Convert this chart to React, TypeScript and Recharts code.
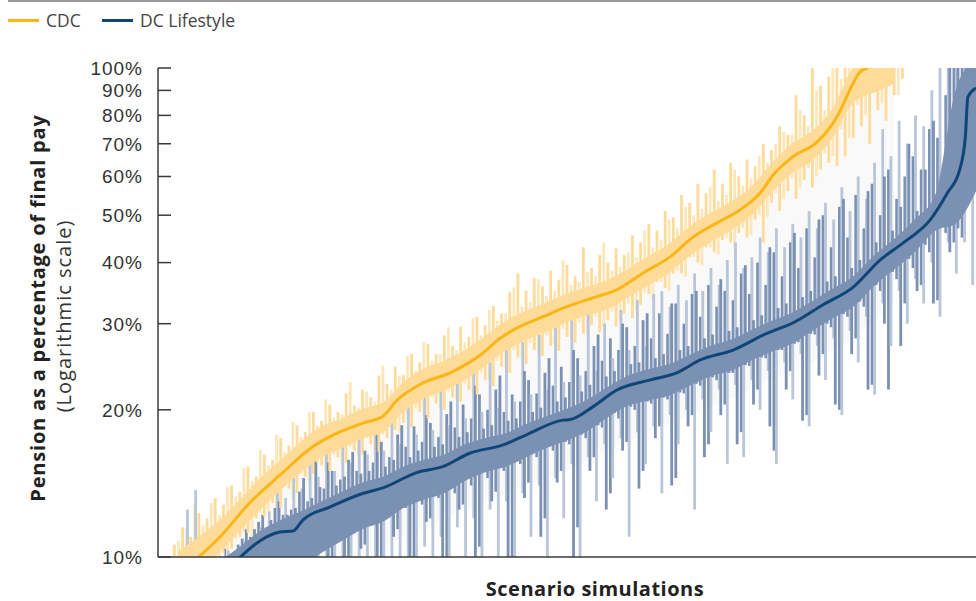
import { ComposedChart, Area, Bar, Cell, Line, XAxis, YAxis } from 'recharts';

const FONT = '"Open Sans", "Noto Sans", sans-serif';
const TICK_FONT = '"Liberation Sans", Arial, sans-serif';
const AXIS = '#3a3a3a';
const PLOT_LEFT = 158;
const YELLOW_FILL = '#fedb98';
const YELLOW_PALE = '#fee6b8';
const DARK_FILL = '#7b91b4';
const LIGHT_FILL = '#b9c5d9';

// y-axis ticks (percent of final pay, log scale)
const yTicks = [10, 20, 30, 40, 50, 60, 70, 80, 90, 100];

// scenario index helper (x positions only, not values)
const steps = (from: number, to: number, step: number) =>
  Array.from({ length: Math.floor((to - from) / step) + 1 }, (_, k) => from + k * step);

// CDC median outcome
const cdcIdx = [47, 76, 112, 149, 189, 251, 275, 292, 324, 357, 397, 418, 434, 471, 500, 532, 561, 593, 626, 654, 683, 711, 736, 752, 776, 806, 830, 850, 858, 868];
const cdcVal = [9.9, 11.0, 12.9, 14.7, 16.8, 18.8, 19.4, 20.9, 22.7, 23.8, 26.1, 28.0, 29.1, 31.0, 32.5, 33.9, 35.2, 38.1, 41.1, 45.1, 48.2, 51.2, 55.5, 60.4, 65.8, 70.6, 79.4, 93.2, 98.1, 100];

// DC Lifestyle median outcome
const dcIdx = [98, 125, 149, 165, 177, 210, 251, 275, 317, 348, 381, 422, 451, 495, 504, 532, 561, 601, 634, 663, 703, 745, 776, 813, 850, 883, 911, 944, 965, 980, 987, 990, 1000];
const dcVal = [9.9, 10.8, 11.25, 11.3, 11.9, 12.65, 13.5, 13.85, 14.9, 15.3, 16.3, 16.95, 17.8, 19.05, 19.1, 20.3, 21.95, 23.0, 23.8, 25.3, 26.5, 28.7, 30.1, 32.8, 35.65, 40.5, 43.9, 48.9, 55.5, 61.9, 72.3, 87.2, 91.0];

// CDC dense core of simulations
const cdcCoreIdx = steps(25, 900, 25);
const cdcCoreLo = [
  9, 9.3, 10.2, 11.3, 12.5, 13.7, 14.9, 16.0, 16.7, 17.5,
  18.0, 19.8, 21.1, 21.9, 23.0, 24.6, 26.4, 27.8, 28.9, 30.2,
  31.2, 32.1, 34.0, 36.0, 38.1, 41.3, 44.0, 46.5, 49.8, 55.6,
  61.0, 64.7, 72.1, 85, 89, 93,
];
const cdcCoreHi = [
  10.3, 11.0, 11.9, 13.1, 14.5, 15.8, 17.2, 18.5, 19.2, 20.1,
  20.7, 22.8, 24.3, 25.2, 26.5, 28.3, 30.4, 31.9, 33.2, 34.6,
  35.7, 36.9, 38.9, 41.3, 43.7, 47.4, 50.5, 53.3, 57.2, 63.8,
  70.0, 74.3, 82.8, 100, 105, 105,
];

// DC Lifestyle dense core of simulations
const dcCoreIdx = steps(75, 1000, 25);
const dcCoreLo = [
  9, 9, 9, 9, 9.5, 10.2, 10.8, 11.4, 11.8, 12.6,
  13.1, 13.5, 14.3, 14.9, 15.3, 16.0, 16.7, 17.3, 18.1, 19.3,
  20.4, 20.9, 21.4, 22.4, 23.4, 24.0, 25.2, 26.3, 27.3, 29.0,
  30.8, 32.5, 35.8, 38.7, 42.0, 46.4, 48, 56,
];
const dcCoreHi = [
  9.8, 10.5, 11.3, 11.9, 12.4, 13.0, 13.6, 14.2, 14.6, 15.3,
  15.8, 16.2, 17.0, 17.5, 17.9, 18.7, 19.4, 20.1, 21.0, 22.3,
  23.5, 24.2, 24.8, 25.9, 27.0, 27.8, 29.1, 30.4, 31.6, 33.4,
  35.4, 37.5, 41.3, 44.7, 49.0, 55, 90, 105,
];

// CDC individual simulation spikes (low, high)
const cdcSpikeIdx = steps(20, 910, 10);
const cdcLo = [
  9, 9, 9, 9, 9.5, 9.8, 10.2, 10.4, 11.0, 11.2,
  12.0, 12.1, 12.9, 12.6, 13.8, 13.5, 14.6, 14.8, 15.4, 15.0,
  16.0, 15.6, 16.5, 16.2, 17.0, 16.4, 17.5, 18.2, 18.8, 18.4,
  19.8, 19.2, 20.6, 20.0, 21.2, 20.8, 22.0, 21.5, 23.0, 22.4,
  24.5, 23.8, 25.6, 24.8, 26.5, 25.8, 27.0, 26.4, 28.2, 27.4,
  28.6, 29.8, 28.8, 30.5, 29.6, 31.5, 30.8, 32.8, 34.5, 36.5,
  35.5, 38.0, 38.0, 41.0, 40.0, 43.0, 42.0, 44.5, 44.0, 46.0,
  45.0, 49.0, 44.0, 53.0, 51.0, 56.0, 54.0, 59.0, 57.0, 62.0,
  64.0, 63.0, 66.0, 72.0, 76.0, 70.0, 82.0, 78.0, 88.0, 95.0,
];
const cdcHi = [
  10.6, 11.5, 11.0, 12.3, 12.0, 13.2, 12.8, 14.0, 13.6, 15.3,
  14.6, 16.2, 15.8, 17.5, 16.9, 18.6, 18.0, 19.8, 19.0, 20.5,
  19.8, 21.6, 20.4, 22.0, 21.2, 23.5, 22.6, 24.5, 23.6, 26.0,
  25.0, 27.3, 26.0, 28.4, 27.0, 29.6, 28.2, 31.0, 29.8, 32.6,
  31.5, 34.8, 38.0, 35.0, 37.2, 35.8, 38.5, 36.8, 39.6, 37.5,
  43.0, 39.0, 41.5, 40.0, 42.8, 41.5, 45.5, 44.0, 48.0, 46.5,
  51.0, 49.5, 55.0, 53.0, 58.0, 55.5, 62.0, 58.0, 64.0, 60.0,
  65.0, 63.0, 70.0, 68.0, 76.0, 73.0, 88.0, 80.0, 100, 92.0,
  96.0, 105, 105, 105, 105, 105, 105, 105, 105, 105,
];

// CDC further simulations, in between the ones above (low, high)
const cdcSpike2Idx = steps(25, 905, 10);
const cdcSpike2: [number, number][] = [
  [9, 10.8], [9, 11.4], [9, 12.8], [9.4, 11.6], [9.3, 12.9], [10.0, 12.2], [9.8, 13.9], [10.9, 13.3], [11.2, 15.2], [11.0, 14.3],
  [12.3, 16.6], [12.4, 15.4], [12.6, 17.8], [13.9, 16.4], [13.2, 18.9], [14.8, 17.6], [14.2, 19.8], [15.6, 18.6], [15.0, 21.0], [16.2, 19.3],
  [15.4, 19.6], [16.8, 22.8], [16.0, 20.2], [17.5, 21.8], [16.2, 20.8], [17.8, 24.6], [18.6, 22.0], [18.0, 23.5], [19.6, 25.8], [20.1, 24.0],
  [19.4, 27.5], [21.2, 25.2], [20.2, 26.0], [21.8, 29.5], [21.0, 26.5], [22.6, 27.5], [21.5, 30.8], [23.8, 28.4], [23.0, 32.0], [25.2, 30.4],
  [24.4, 31.5], [26.5, 35.6], [25.5, 32.5], [27.4, 33.2], [26.2, 37.0], [28.4, 34.2], [27.2, 35.0], [29.3, 40.5], [28.0, 36.0], [30.2, 36.5],
  [28.6, 38.2], [31.0, 37.5], [29.5, 44.0], [31.8, 38.5], [30.4, 39.2], [33.0, 42.0], [32.0, 41.0], [34.8, 46.5], [33.5, 43.0], [36.5, 44.5],
  [35.0, 49.0], [38.5, 47.0], [37.5, 52.0], [41.0, 50.0], [39.5, 51.5], [43.0, 57.0], [41.5, 53.5], [45.0, 55.0], [43.0, 62.0], [47.0, 57.5],
  [45.5, 59.5], [50.0, 66.0], [49.5, 64.0], [55.5, 70.0], [54.0, 74.0], [59.5, 73.0], [57.0, 82.0], [62.5, 76.0], [60.0, 90.0], [67.0, 82.0],
  [66.0, 100], [75.0, 95.0], [72.0, 105], [84.0, 105], [80.0, 105], [90.0, 105], [85.0, 105], [92.0, 105], [88.0, 105],
];

// DC Lifestyle individual simulation spikes (low, high)
const darkSpikeIdx = steps(73, 1003, 10);
const darkLo = [
  9, 9, 9, 9, 9, 9, 9.5, 10.0, 10.2, 9.0,
  10.4, 10.6, 9.0, 10.8, 10.0, 11.2, 9.0, 11.5, 10.6, 11.8,
  9.0, 12.2, 11.4, 12.6, 9.0, 12.8, 12.0, 13.2, 9.0, 13.5,
  12.8, 14.0, 10.5, 14.5, 13.6, 15.0, 9.0, 15.5, 14.2, 16.0,
  12.0, 16.5, 15.0, 17.0, 11.5, 17.5, 16.0, 18.4, 13.5, 19.2,
  17.2, 20.0, 15.0, 20.6, 18.5, 21.0, 14.5, 21.6, 19.5, 22.4,
  17.0, 23.0, 20.5, 23.8, 18.0, 24.6, 22.0, 25.5, 16.5, 26.5,
  24.0, 27.5, 19.5, 28.5, 26.0, 29.5, 20.0, 31.0, 28.0, 32.5,
  22.5, 35.0, 22.0, 37.0, 33.0, 39.0, 36.0, 42.0, 33.5, 46.0,
  44.0, 45.0, 58.0, 52.0,
];
const darkHi = [
  9.5, 10.4, 10.2, 10.9, 11.0, 11.8, 11.5, 12.6, 12.2, 12.5,
  13.6, 13.0, 17.5, 13.8, 15.0, 14.4, 15.8, 15.0, 16.5, 15.6,
  17.2, 16.0, 17.8, 16.8, 18.5, 17.2, 18.8, 17.6, 19.6, 18.4,
  20.5, 19.2, 21.5, 20.0, 22.0, 19.8, 21.5, 20.8, 23.0, 21.6,
  23.8, 22.4, 24.5, 22.8, 25.5, 24.0, 27.0, 25.2, 28.0, 26.5,
  29.5, 27.0, 30.5, 28.0, 31.5, 28.6, 33.0, 30.0, 34.5, 31.0,
  36.0, 32.5, 35.0, 33.5, 38.0, 34.5, 40.0, 36.0, 42.0, 37.5,
  44.0, 39.0, 47.0, 41.0, 50.0, 43.0, 52.0, 45.0, 55.0, 47.0,
  58.0, 50.0, 62.0, 54.0, 60.0, 66.0, 62.0, 75.0, 72.0, 88.0,
  105, 105, 105, 105,
];

// DC Lifestyle further simulations, in between the ones above (low, high)
const darkSpike2Idx = steps(78, 998, 10);
const darkSpike2: [number, number][] = [
  [9, 9.6], [9, 10.1], [9, 10.6], [9, 11.4], [9.5, 11.4], [9, 12.2], [10.1, 11.9], [9, 13.0], [10.3, 12.2], [9, 12.6],
  [10.8, 14.5], [9, 13.2], [11.2, 13.9], [9.6, 15.6], [11.6, 14.0], [9, 14.6], [12.0, 16.4], [10.4, 14.8], [12.3, 15.0], [9, 17.8],
  [12.6, 15.3], [11.0, 15.8], [13.0, 18.6], [9, 16.0], [13.5, 16.5], [11.8, 19.5], [13.7, 16.8], [9, 17.0], [14.1, 20.8], [12.5, 17.6],
  [14.7, 18.0], [9, 22.4], [15.0, 18.3], [13.0, 18.6], [15.3, 23.5], [9, 19.0], [15.8, 19.2], [13.2, 24.0], [16.3, 19.8], [11.0, 20.2],
  [16.8, 25.5], [14.2, 20.8], [17.2, 21.2], [9, 26.5], [17.8, 21.8], [15.0, 22.5], [18.6, 28.5], [12.5, 23.4], [19.7, 24.0], [16.5, 30.0],
  [20.3, 24.8], [13.8, 25.0], [20.8, 31.5], [17.5, 25.5], [21.2, 26.0], [14.0, 33.0], [21.7, 26.5], [18.5, 27.0], [22.6, 35.0], [16.0, 28.0],
  [23.3, 28.5], [19.5, 37.0], [23.8, 29.0], [17.0, 29.5], [24.7, 39.5], [20.5, 30.5], [25.6, 31.2], [18.5, 43.0], [26.5, 32.3], [22.0, 33.0],
  [27.3, 46.0], [19.0, 34.0], [28.6, 35.0], [23.5, 49.0], [30.0, 36.6], [20.5, 37.5], [31.4, 54.0], [26.0, 39.0], [33.3, 40.5], [22.0, 56.0],
  [36.0, 44.0], [30.0, 60.0], [38.3, 46.5], [27.0, 52.0], [40.7, 70.0], [35.0, 51.0], [43.5, 62.0], [33.0, 78.0], [48.5, 60.0], [42.0, 105],
  [47.0, 105], [55.0, 105], [60.0, 105],
];

// DC Lifestyle outer simulation spikes (low, high)
const lightSpikeIdx = steps(36, 1006, 10);
const lightLo = [
  9, 9, 9, 9, 9, 9, 9, 9, 9, 9,
  9, 9, 9, 9, 9, 9, 9, 9, 9, 9,
  9, 9, 9, 9, 9, 9, 9, 9, 9, 10.5,
  9, 11.0, 9, 11.5, 9, 12.0, 9, 12.5, 10.0, 13.0,
  9, 13.5, 11.0, 14.0, 9, 14.5, 12.0, 15.5, 9, 16.0,
  13.0, 17.0, 14.5, 17.5, 11.0, 18.0, 15.5, 18.5, 13.5, 19.5,
  17.0, 20.0, 12.5, 21.0, 18.0, 22.0, 15.5, 22.5, 16.0, 23.0,
  20.0, 24.0, 15.5, 25.0, 21.0, 26.0, 18.5, 27.0, 23.0, 28.0,
  19.5, 29.0, 25.0, 31.0, 21.5, 33.0, 27.0, 35.0, 30.0, 37.0,
  33.0, 40.0, 31.0, 44.0, 38.0, 44.0, 36.0, 54.0,
];
const lightHi = [
  12.5, 13.7, 9.3, 9.8, 9.5, 10.3, 9.8, 10.8, 10.4, 11.5,
  12.4, 14.0, 13.2, 14.5, 13.8, 16.0, 14.6, 16.8, 15.0, 17.4,
  15.6, 17.8, 16.2, 18.6, 16.5, 19.5, 17.0, 21.0, 17.8, 21.6,
  18.2, 22.5, 18.6, 23.2, 19.2, 24.0, 19.8, 25.0, 20.2, 26.5,
  20.8, 27.5, 21.5, 28.5, 22.0, 29.5, 22.8, 30.5, 23.5, 31.5,
  24.0, 30.0, 25.5, 32.0, 26.5, 33.5, 27.0, 34.5, 35.0, 32.5,
  36.0, 33.5, 38.0, 35.0, 39.0, 36.0, 40.5, 44.0, 39.0, 41.0,
  45.0, 42.0, 47.0, 43.0, 48.0, 45.0, 51.0, 47.0, 53.0, 49.0,
  57.0, 51.0, 60.0, 54.0, 64.0, 75.0, 66.0, 78.0, 70.0, 80.0,
  76.0, 90.0, 105, 105, 105, 105, 105, 105,
];

// faint zone between the two strategies
const greyIdx = [40, 100, 150, 200, 250, 300, 350, 400, 450, 500, 550, 600, 650, 700, 750, 800, 850, 900];
const greyLo = [9, 9, 9, 9.5, 10, 11, 12, 13, 14, 15, 16.5, 18, 19.5, 21, 23, 25, 28, 33];
const greyHi = [10, 11.6, 14.0, 16.3, 17.8, 20.2, 22.4, 25.0, 28.4, 30.8, 32.9, 36.8, 42.3, 47.5, 56.8, 66.1, 88, 100];

const toLine = (idx: number[], vals: number[]) => idx.map((i, k) => ({ i, v: vals[k] }));
const toBand = (idx: number[], lo: number[], hi: number[]) =>
  idx.map((i, k) => ({ i, r: [lo[k], hi[k]] }));

const cdcLine = toLine(cdcIdx, cdcVal);
const dcLine = toLine(dcIdx, dcVal);
const cdcCore = toBand(cdcCoreIdx, cdcCoreLo, cdcCoreHi);
const dcCore = toBand(dcCoreIdx, dcCoreLo, dcCoreHi);
const greyBand = toBand(greyIdx, greyLo, greyHi);

// every simulation spike in one table, each with its own colour
const spikeRows = [
  ...lightSpikeIdx.map((i, k) => ({ i, r: [lightLo[k], lightHi[k]], c: LIGHT_FILL })),
  ...cdcSpike2Idx.map((i, k) => ({ i, r: cdcSpike2[k], c: YELLOW_PALE })),
  ...cdcSpikeIdx.map((i, k) => ({ i, r: [cdcLo[k], cdcHi[k]], c: YELLOW_FILL })),
  ...darkSpikeIdx.map((i, k) => ({ i, r: [darkLo[k], darkHi[k]], c: DARK_FILL })),
  ...darkSpike2Idx.map((i, k) => ({ i, r: darkSpike2[k], c: DARK_FILL })),
].sort((a, b) => a.i - b.i);

// thin vertical stroke per simulation, centred on the slot the library computed
const Spike = (props: any) => {
  const { x, y, width, height, fill } = props;
  if (height == null || !isFinite(height) || !isFinite(y)) return null;
  return <rect x={x + width / 2 - 1.4} y={y} width={2.8} height={Math.max(height, 0)} fill={fill} />;
};

const YTick = ({ y, payload }: any) => (
  <g>
    <line x1={PLOT_LEFT} x2={PLOT_LEFT + 13} y1={y} y2={y} stroke={AXIS} strokeWidth={1.5} />
    <text x={143} y={y} dy="0.36em" textAnchor="end" fontFamily={TICK_FONT} fontSize={19}
      letterSpacing={1} fill="#333">
      {payload.value}%
    </text>
  </g>
);

const YLabel = () => (
  <g fontFamily={FONT}>
    <text transform="translate(37, 308) rotate(-90)" textAnchor="middle" dominantBaseline="central"
      fontSize={20} fontWeight={700} letterSpacing={0.8} fill="#222">
      Pension as a percentage of final pay
    </text>
    <text transform="translate(63, 316) rotate(-90)" textAnchor="middle" dominantBaseline="central"
      fontSize={20} letterSpacing={1} fill="#333">
      (Logarithmic scale)
    </text>
  </g>
);

const XLabel = () => (
  <text x={595} y={588} textAnchor="middle" dominantBaseline="central" fontFamily={FONT}
    fontSize={20} fontWeight={700} letterSpacing={0.5} fill="#222">
    Scenario simulations
  </text>
);

const LegendItem = ({ color, label, left }: { color: string; label: string; left: number }) => (
  <div style={{ position: 'absolute', left, top: 8, display: 'flex', alignItems: 'center', height: 24 }}>
    <span style={{ display: 'inline-block', width: 31, height: 3, background: color, marginRight: 7 }} />
    <span style={{ fontFamily: FONT, fontSize: 17.5, color: '#444' }}>{label}</span>
  </div>
);

export default function App() {
  return (
    <div style={{ position: 'absolute', left: 0, top: 0, width: 976, height: 601, background: '#fff' }}>
      <div style={{ position: 'absolute', left: 8, top: 0, width: 968, height: 2, background: '#9a9a9a' }} />
      <LegendItem color="#fbb514" label="CDC" left={8} />
      <LegendItem color="#0f4677" label="DC Lifestyle" left={102} />
      <ComposedChart width={976} height={601} data={spikeRows} barGap={0}
        margin={{ top: 68, right: 0, bottom: 0, left: 0 }}>
        <XAxis
          type="number"
          dataKey="i"
          domain={[0, 1000]}
          allowDataOverflow
          tick={false}
          tickLine={false}
          height={44}
          axisLine={{ stroke: AXIS, strokeWidth: 1.5 }}
          label={XLabel}
        />
        <YAxis
          scale="log"
          domain={[10, 100]}
          allowDataOverflow
          ticks={yTicks}
          interval={0}
          width={PLOT_LEFT}
          tickLine={false}
          tick={YTick}
          axisLine={{ stroke: AXIS, strokeWidth: 1.5 }}
          label={YLabel}
        />
        <Area data={greyBand} dataKey="r" type="linear" stroke="none" fill="#f9f9f9" fillOpacity={1}
          isAnimationActive={false} activeDot={false} zIndex={100} />
        <Bar dataKey="r" shape={Spike} isAnimationActive={false} zIndex={110}>
          {spikeRows.map((row, k) => (
            <Cell key={`spike-${k}`} fill={row.c} />
          ))}
        </Bar>
        <Area data={cdcCore} dataKey="r" type="monotone" stroke="none" fill={YELLOW_FILL} fillOpacity={1}
          isAnimationActive={false} activeDot={false} zIndex={120} />
        <Area data={dcCore} dataKey="r" type="monotone" stroke="none" fill={DARK_FILL} fillOpacity={1}
          isAnimationActive={false} activeDot={false} zIndex={130} />
        <Line data={cdcLine} dataKey="v" type="monotone" stroke="#fbb514" strokeWidth={3} dot={false}
          isAnimationActive={false} activeDot={false} zIndex={400} />
        <Line data={dcLine} dataKey="v" type="monotone" stroke="#0f4677" strokeWidth={3} dot={false}
          isAnimationActive={false} activeDot={false} zIndex={400} />
      </ComposedChart>
    </div>
  );
}
